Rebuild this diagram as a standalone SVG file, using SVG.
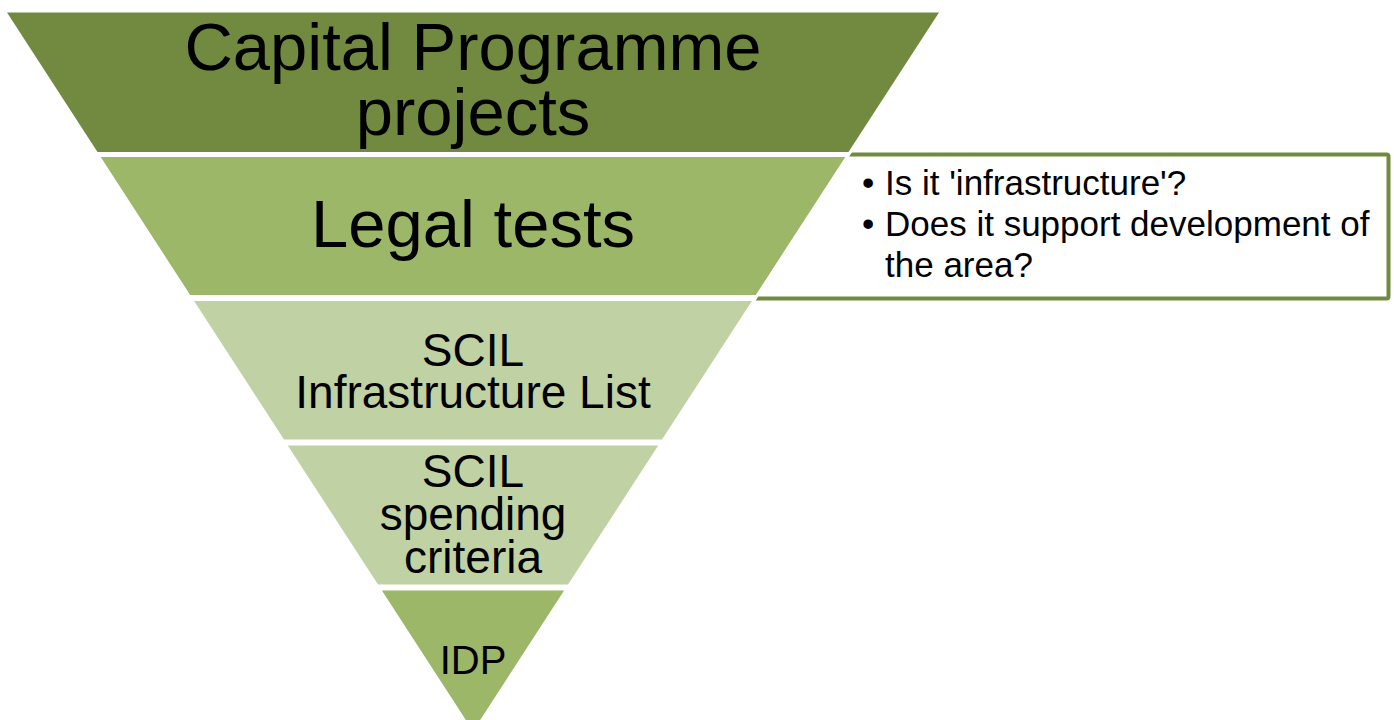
<svg xmlns="http://www.w3.org/2000/svg" width="1394" height="720" viewBox="0 0 1394 720">
  <style>
    .t { font-family: "Liberation Sans", Arial, sans-serif; fill: #000; text-anchor: middle; }
    .big { font-size: 67px; }
    .mid { font-size: 46px; }
    .callout { font-family: "Liberation Sans", Arial, sans-serif; font-size: 35px; fill: #000; }
    .dark { fill: #728A40; }
    .medium { fill: #9BB767; }
    .light { fill: #C0D1A3; }
  </style>
  <rect width="1394" height="720" fill="#ffffff"/>
  <g id="callout-box">
    <rect x="700" y="154.5" width="688.5" height="144" rx="2" fill="#ffffff" stroke="#728A40" stroke-width="4"/>
  </g>
  <polygon points="7,12.5 939,12.5 473,731" fill="#ffffff" stroke="#ffffff" stroke-width="6" stroke-linejoin="miter"/>
  <g id="layer1">
    <polygon class="dark" points="7,12.5 939,12.5 848.5,152 97.5,152"/>
    <text class="t big" x="473" y="70">Capital Programme<tspan x="473" dy="65">projects</tspan></text>
  </g>
  <g id="layer2">
    <polygon class="medium" points="100.7,157 845.3,157 755.8,295 190.2,295"/>
    <text class="t big" x="473" y="247">Legal tests</text>
  </g>
  <g id="layer3">
    <polygon class="light" points="194.1,301 751.9,301 662,439.5 284,439.5"/>
    <text class="t mid" x="473" y="366">SCIL<tspan x="473" dy="42">Infrastructure List</tspan></text>
  </g>
  <g id="layer4">
    <polygon class="light" points="287.8,445.5 658.2,445.5 568,584.5 378,584.5"/>
    <text class="t mid" x="473" y="487">SCIL<tspan x="473" dy="43">spending</tspan><tspan x="473" dy="43">criteria</tspan></text>
  </g>
  <g id="layer5">
    <polygon class="medium" points="381.9,590.5 564.1,590.5 473,731"/>
    <text class="t" style="font-size:40px" x="473" y="674">IDP</text>
  </g>
  <g id="callout-text">
    <text class="callout" x="862" y="195">•<tspan x="885">Is it 'infrastructure'?</tspan></text>
    <text class="callout" x="862" y="236">•<tspan x="885">Does it support development of</tspan><tspan x="885" dy="41">the area?</tspan></text>
  </g>
  <g id="connectors"></g>
</svg>
